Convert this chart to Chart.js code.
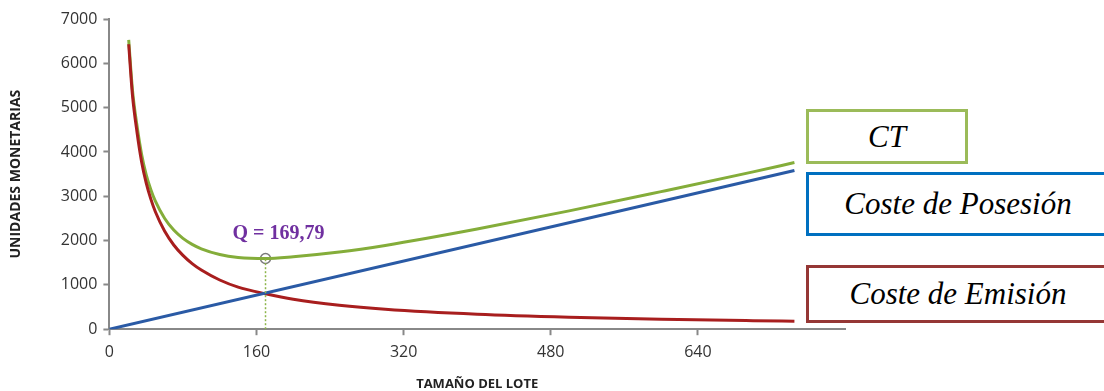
<!DOCTYPE html>
<html>
<head>
<meta charset="utf-8">
<script src="https://cdn.jsdelivr.net/npm/chart.js@4"></script>
<style>
  body { margin: 0; background: #fff; }
  #wrap { position: relative; width: 1104px; height: 391px; overflow: hidden; }
  .caja {
    position: absolute; background: #fff; box-sizing: border-box;
    font-family: "Liberation Serif", serif; font-style: italic; font-size: 31px;
    color: #000; display: flex; align-items: center; justify-content: center;
  }
</style>
</head>
<body>
<div id="wrap">
  <canvas id="grafico" width="1104" height="391"></canvas>
  <div class="caja" style="left:806px;top:109px;width:162px;height:55px;border:3px solid #9bbb59;">CT</div>
  <div class="caja" style="left:806px;top:172px;width:304px;height:64px;border:3px solid #0070c0;">Coste de Posesión</div>
  <div class="caja" style="left:806px;top:265px;width:304px;height:58px;border:3px solid #953735;">Coste de Emisión</div>
</div>
<script>
// Tamaño del lote (eje X) y valores
var lotes = [21, 25, 30, 35, 40, 45, 50, 60, 70, 80, 90, 100, 120, 140, 169.79, 200, 250, 300, 400, 500, 600, 700, 745];
var costeEmision = [6430, 5300, 4450, 3780, 3300, 2940, 2650, 2215, 1900, 1665, 1480, 1335, 1110, 950, 800, 675, 540, 450, 338, 270, 225, 193, 181];
var costeTotal = [6530, 5420, 4595, 3950, 3490, 3155, 2890, 2505, 2236, 2050, 1915, 1815, 1686, 1620, 1595, 1635, 1740, 1890, 2260, 2670, 3105, 3550, 3760];
var lotesPosesion = [0, 745];
var costePosesion = [0, 3580];
var ticksX = [0, 160, 320, 480, 640];
var loteOptimo = 169.79;
var costeOptimo = 1595;

function puntos(xs, ys) {
    return xs.map(function(x, i) { return { x: x, y: ys[i] }; });
}

//Etiqueta del punto óptimo
var etiquetaQ = {
    id: 'etiquetaQ',
    afterDatasetsDraw: function(chart) {
        var ctx = chart.ctx;
        var px = chart.scales.x.getPixelForValue(loteOptimo);
        var py = chart.scales.y.getPixelForValue(costeOptimo);
        ctx.save();
        ctx.font = 'bold 20px "Liberation Serif"';
        ctx.fillStyle = '#7030a0';
        ctx.textAlign = 'center';
        ctx.textBaseline = 'middle';
        ctx.fillText('Q = 169,79', px + 13, py - 25);
        ctx.restore();
    }
};

var ctx = document.getElementById('grafico').getContext('2d');
var grafico = new Chart(ctx, {
    type: 'scatter',
    data: {
        datasets: [
            {
                data: puntos([loteOptimo, loteOptimo], [0, costeOptimo]),
                showLine: true, borderColor: '#8db54a', borderWidth: 1.5,
                borderDash: [2, 2], pointRadius: 0
            },
            {
                label: 'Coste de Posesión',
                data: puntos(lotesPosesion, costePosesion),
                showLine: true, borderColor: '#2a5aa5', borderWidth: 3, pointRadius: 0
            },
            {
                label: 'Coste de Emisión',
                data: puntos(lotes, costeEmision),
                showLine: true, borderColor: '#a81e1e', borderWidth: 3, pointRadius: 0,
                cubicInterpolationMode: 'monotone'
            },
            {
                label: 'CT',
                data: puntos(lotes, costeTotal),
                showLine: true, borderColor: '#84ad3a', borderWidth: 3, pointRadius: 0,
                cubicInterpolationMode: 'monotone'
            },
            {
                data: puntos([loteOptimo], [costeOptimo]),
                pointRadius: 5, pointBorderWidth: 1.5,
                pointBackgroundColor: '#fff', pointBorderColor: '#7a7a7a'
            }
        ]
    },
    options: {
        responsive: false,
        animation: false,
        layout: { padding: { left: 8, right: 259, top: 19, bottom: -1 } },
        plugins: { legend: { display: false }, tooltip: { enabled: false } },
        scales: {
            x: {
                type: 'linear', min: 0, max: 800,
                afterBuildTicks: function(axis) {
                    axis.ticks = ticksX.map(function(v) { return { value: v }; });
                },
                grid: { drawOnChartArea: false, tickLength: 6, color: '#888', tickWidth: 2 },
                border: { color: '#888', width: 2 },
                ticks: { color: '#333', font: { family: 'Open Sans', size: 16 }, padding: 8 },
                title: {
                    display: true, text: 'TAMAÑO DEL LOTE', color: '#222',
                    font: { family: 'Open Sans', size: 13, weight: 'bold' }, padding: { top: 6, bottom: 0 }
                }
            },
            y: {
                min: 0, max: 7000,
                ticks: {
                    stepSize: 1000, color: '#333', font: { family: 'Open Sans', size: 16 }, padding: 6,
                    callback: function(v) { return String(v); }
                },
                grid: { drawOnChartArea: false, tickLength: 6, color: '#888', tickWidth: 2 },
                border: { color: '#888', width: 2 },
                title: {
                    display: true, text: 'UNIDADES MONETARIAS', color: '#222',
                    font: { family: 'Open Sans', size: 14, weight: 'bold' }, padding: { top: 0, bottom: 30 }
                }
            }
        }
    },
    plugins: [etiquetaQ]
});
</script>
</body>
</html>
